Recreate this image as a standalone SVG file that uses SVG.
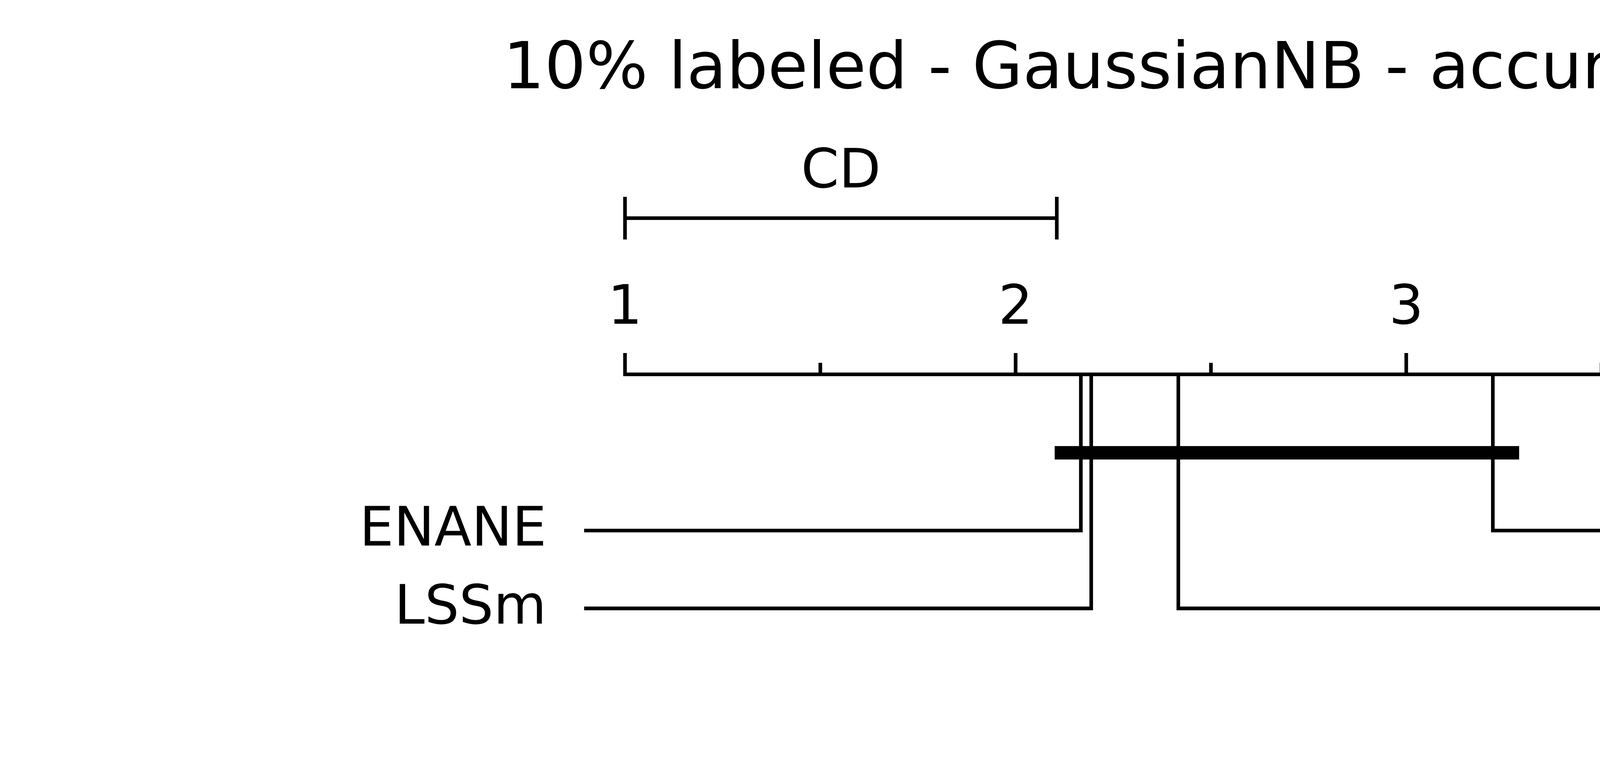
<svg xmlns="http://www.w3.org/2000/svg" width="6199" height="1959" viewBox="0 0 6199 1959">
<style>
.ln{stroke:#000;stroke-width:9.3;fill:none;stroke-linecap:square;stroke-linejoin:miter}
.t{font-family:"DejaVu Sans","Liberation Sans",sans-serif;font-size:139px;fill:#000}
.title{font-family:"DejaVu Sans","Liberation Sans",sans-serif;font-size:166.7px;fill:#000}
</style>
<rect x="0" y="0" width="6199" height="1959" fill="#fff"/>
<text class="title" x="3100" y="226" text-anchor="middle">10% labeled - GaussianNB - accuracy score</text>
<g id="cd">
<path class="ln" d="M1600,558.7 H2705.4 M1600,508.7 V608.7 M2705.4,508.7 V608.7"/>
<text class="t" x="2152.7" y="479.5" text-anchor="middle">CD</text>
</g>
<g id="axis">
<path class="ln" d="M1600,958.7 H4600 M1600,958.7 V908.7 M2600,958.7 V908.7 M3600,958.7 V908.7 M4600,958.7 V908.7 M2100,958.7 V933.7 M3100,958.7 V933.7 M4100,958.7 V933.7"/>
<text class="t" x="1600" y="829" text-anchor="middle">1</text>
<text class="t" x="2600" y="829" text-anchor="middle">2</text>
<text class="t" x="3600" y="829" text-anchor="middle">3</text>
<text class="t" x="4600" y="829" text-anchor="middle">4</text>
</g>
<g id="connectors">
<polyline class="ln" points="2767,958.7 2767,1358.7 1500,1358.7"/>
<polyline class="ln" points="2793.5,958.7 2793.5,1558 1500,1558"/>
<polyline class="ln" points="3016.5,958.7 3016.5,1558 4700,1558"/>
<polyline class="ln" points="3821.7,958.7 3821.7,1358.7 4700,1358.7"/>
<rect x="2700" y="1142.3" width="1189" height="34.4" fill="#000"/>
</g>
<g id="node-ENANE"><text class="t" x="1399" y="1397" text-anchor="end">ENANE</text></g>
<g id="node-LSSm"><text class="t" x="1399" y="1596.5" text-anchor="end">LSSm</text></g>
<g id="node-base"><text class="t" x="4800" y="1397" text-anchor="start">base</text></g>
<g id="node-ENN"><text class="t" x="4800" y="1596.5" text-anchor="start">ENN</text></g>
</svg>
